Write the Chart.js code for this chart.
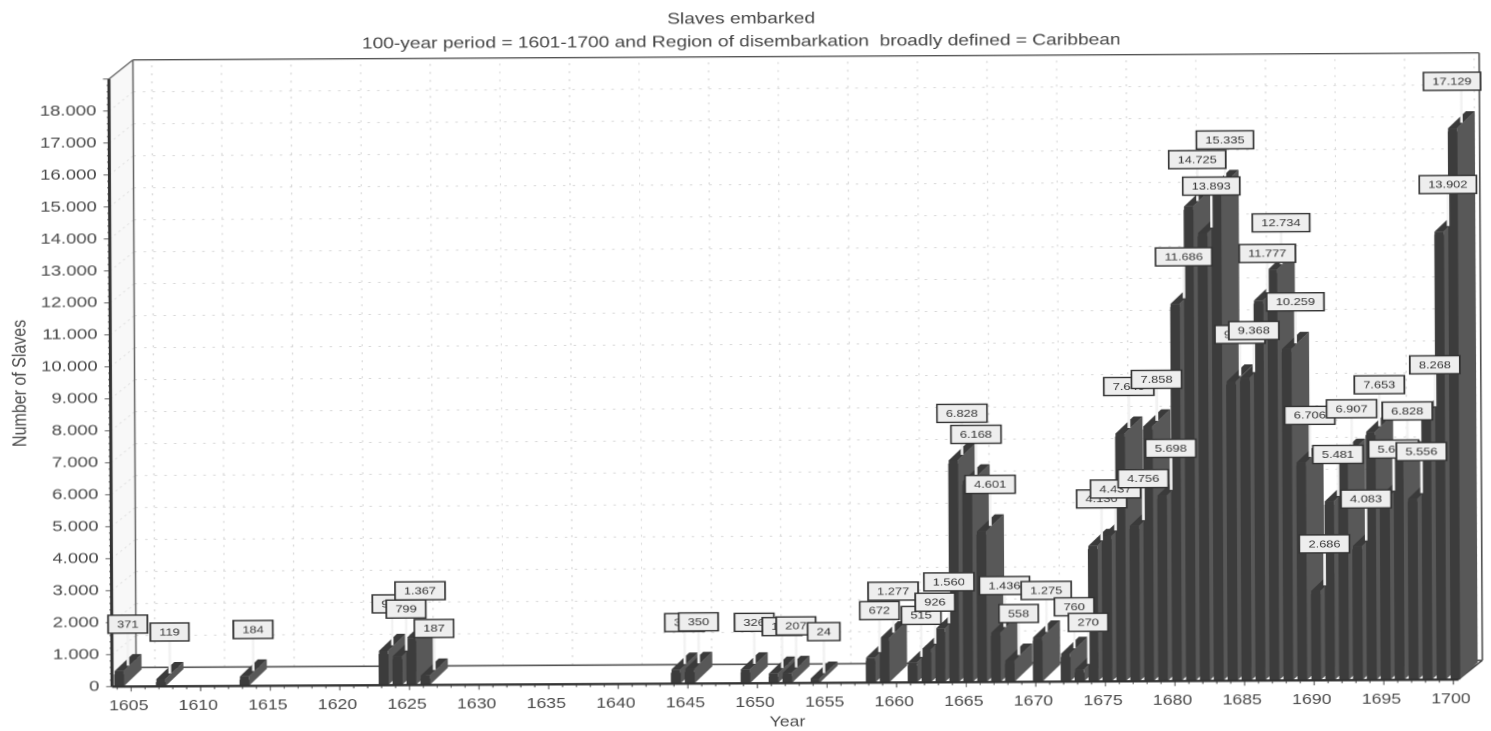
<!DOCTYPE html>
<html>
<head>
<meta charset="utf-8">
<script src="https://cdn.jsdelivr.net/npm/chart.js@4"></script>
<style>
html,body{margin:0;padding:0;background:#fff;overflow:hidden;width:1491px;height:731px}
#wrap{position:absolute;left:0;top:0;height:731px;transform-origin:0 0;filter:blur(0.45px)}
</style>
</head>
<body>
<div id="wrap"><canvas id="c"></canvas></div>
<script>
const titleLines = ['Slaves embarked', '100-year period = 1601-1700 and Region of disembarkation  broadly defined = Caribbean'];
const yAxisTitle = 'Number of Slaves';
const xAxisTitle = 'Year';
const firstYear = 1604;
const lastYear = 1700;
const yMax = 19000;
const dataYears = [1604,1607,1613,1623,1624,1625,1626,1644,1645,1649,1651,1652,1654,
  1658,1659,1661,1662,1663,1664,1665,1666,1667,1668,1670,1672,1673,1674,1675,1676,1677,1678,1679,
  1680,1681,1682,1683,1684,1685,1686,1687,1688,1689,1690,1691,1692,1693,1694,1695,1696,1697,1698,1699,1700];
const slavesEmbarked = [371,119,184,964,799,1367,187,331,350,326,190,207,24,
  672,1277,515,926,1560,6828,6168,4601,1436,558,1275,760,270,4130,4437,7640,4756,7858,5698,
  11686,14725,13893,15335,9250,9368,11777,12734,10259,6706,2686,5481,6907,4083,7653,5640,6828,5556,8268,13902,17129];

// horizontal stretch of the scanned picture
const S = 1.22;
const wrap = document.getElementById('wrap');
wrap.style.width = (1491 / S) + 'px';
wrap.style.transform = 'translate(745.5px,365.5px) rotate(-0.3deg) translate(-745.5px,-365.5px) scaleX(' + S + ')';

const categories = [];
for (let y = firstYear; y <= lastYear; y++) categories.push(String(y));
const seriesValues = categories.map(c => {
  const i = dataYears.indexOf(Number(c));
  return i < 0 ? null : slavesEmbarked[i];
});
const fmt = v => String(v).replace(/\B(?=(\d{3})+(?!\d))/g, '.');

const FRONT = '#3c3c3c', SIDE = '#585858', TOP = '#3a3a3a';
const FONT = '"Liberation Sans", Arial, sans-serif';

const poly = (ctx, pts, fill, stroke, lw) => {
  ctx.beginPath();
  pts.forEach((p, i) => i ? ctx.lineTo(p[0], p[1]) : ctx.moveTo(p[0], p[1]));
  ctx.closePath();
  if (fill) { ctx.fillStyle = fill; ctx.fill(); }
  if (stroke) { ctx.strokeStyle = stroke; ctx.lineWidth = lw || 1; ctx.stroke(); }
};
const line = (ctx, x1, y1, x2, y2, col, lw, dash) => {
  ctx.beginPath();
  ctx.setLineDash(dash || []);
  ctx.moveTo(x1, y1); ctx.lineTo(x2, y2);
  ctx.strokeStyle = col; ctx.lineWidth = lw; ctx.stroke();
  ctx.setLineDash([]);
};

const wallX = 24 / S, wallY = 19, barDX = 18 / S, barDY = 17, capLift = 3.5;

const box3d = {
  id: 'box3d',
  afterLayout(chart) {
    // the title is centred on the picture's own centre line
    if (chart.titleBlock) chart.titleBlock.right = 1486 / S;
  },
  beforeDatasetsDraw(chart) {
    const { ctx, scales: { x, y } } = chart;
    const L = x.left, R = x.right - 4 / S, B = y.getPixelForValue(0), T = y.getPixelForValue(yMax);
    ctx.save();
    // left wall
    poly(ctx, [[L, B], [L + wallX, B - wallY], [L + wallX, T - wallY], [L, T]], '#f8f8f8');
    // back-wall grid
    for (let v = 1000; v < yMax; v += 1000) {
      const py = y.getPixelForValue(v);
      line(ctx, L + wallX, py - wallY, R + wallX, py - wallY, '#d8d8d8', 1, [2, 6]);
      line(ctx, L, py, L + wallX, py - wallY, '#e4e4e4', 1, [2, 3]);
    }
    categories.forEach((c, i) => {
      if (Number(c) % 5 === 0) {
        const px = x.getPixelForValue(i) - 2 / S + wallX;
        line(ctx, px, B - wallY, px, T - wallY, '#d8d8d8', 1, [2, 6]);
      }
    });
    // frame
    line(ctx, L + wallX, B - wallY, L + wallX, T - wallY, '#666', 1.3);
    line(ctx, L, T, L + wallX, T - wallY, '#666', 1.2);
    line(ctx, L + wallX, T - wallY, R + wallX, T - wallY, '#555', 1.4);
    line(ctx, R + wallX, T - wallY, R + wallX, B - wallY, '#555', 1.4);
    // floor
    line(ctx, L + wallX, B - wallY, R + wallX, B - wallY, '#555', 1.6);
    line(ctx, R, B, R + wallX, B - wallY, '#444', 1.4);
    // bar sides and tops, left to right
    const meta = chart.getDatasetMeta(0);
    meta.data.forEach((bar, i) => {
      if (seriesValues[i] === null) return;
      const hw = bar.width / 2, xr = bar.x + hw, xl = bar.x - hw, ty = bar.y - capLift, by = bar.base;
      poly(ctx, [[xr, by], [xr + barDX, by - barDY], [xr + barDX, ty - barDY], [xr, ty]], SIDE);
      poly(ctx, [[xl, ty], [xr, ty], [xr + barDX, ty - barDY], [xl + barDX, ty - barDY]], TOP);
      poly(ctx, [[xl, ty], [xr, ty], [xr, bar.y + 1], [xl, bar.y + 1]], FRONT);
    });
    ctx.restore();
  },
  afterDatasetsDraw(chart) {
    const { ctx, scales: { x, y } } = chart;
    const L = x.left, R = x.right - 4 / S, B = y.getPixelForValue(0), T = y.getPixelForValue(yMax);
    ctx.save();
    // axes with their tick marks
    for (let v = 0; v <= yMax; v += 200) {
      const py = y.getPixelForValue(v);
      line(ctx, L - (v % 1000 === 0 ? 6 : 2.5) / S, py, L, py, '#666', 1);
    }
    categories.forEach((c, i) => {
      const px = x.getPixelForValue(i) - 2 / S;
      line(ctx, px, B, px, B + (Number(c) % 5 === 0 ? 5 : 3), '#666', 1);
    });
    line(ctx, L, B, L, T, '#333', 2.4);
    line(ctx, L, B, R, B, '#333', 2.4);
    // labels: constant offset from each bar's top, like the original renderer
    const meta = chart.getDatasetMeta(0);
    const offX = 9 / S, offY = -50.5, boxH = 18;
    ctx.font = '10.5px ' + FONT;
    meta.data.forEach((bar, i) => {
      if (seriesValues[i] === null) return;
      const lx = bar.x + offX;
      line(ctx, lx, bar.y + offY + boxH / 2, lx, bar.y - 9, '#f2f2f2', 2.6 / S);
    });
    meta.data.forEach((bar, i) => {
      const v = seriesValues[i];
      if (v === null) return;
      const txt = fmt(v);
      const w = ctx.measureText(txt).width + 18 / S;
      let lx = bar.x + offX;
      const maxRight = 1482 / S;
      if (lx + w / 2 > maxRight) lx = maxRight - w / 2;
      const ly = bar.y + offY;
      ctx.fillStyle = '#eeeeee';
      ctx.strokeStyle = '#333';
      ctx.lineWidth = 1.4;
      ctx.fillRect(lx - w / 2, ly - boxH / 2, w, boxH);
      ctx.strokeRect(lx - w / 2, ly - boxH / 2, w, boxH);
      ctx.fillStyle = '#333';
      ctx.textAlign = 'center';
      ctx.textBaseline = 'middle';
      ctx.fillText(txt, lx, ly + 0.5);
    });
    ctx.restore();
  }
};

new Chart(document.getElementById('c'), {
  type: 'bar',
  data: {
    labels: categories,
    datasets: [{ label: 'Slaves embarked', data: seriesValues, backgroundColor: FRONT, barThickness: 9 / S }]
  },
  plugins: [box3d],
  options: {
    responsive: true,
    maintainAspectRatio: false,
    animation: false,
    devicePixelRatio: 2,
    layout: { padding: { left: 0, right: (1491 - 1460.7) / S, top: 0, bottom: 0 } },
    plugins: {
      legend: { display: false },
      tooltip: { enabled: false },
      title: {
        display: true,
        text: titleLines,
        color: '#444',
        font: { family: FONT, size: 15.7, weight: 'normal', lineHeight: '23px' },
        padding: { top: 7.5, bottom: 22.2 }
      }
    },
    scales: {
      x: {
        type: 'category',
        grid: { display: false },
        border: { display: false },
        afterFit(s) { s.height = 47.7; },
        ticks: {
          autoSkip: false, maxRotation: 0, minRotation: 0,
          color: '#4a4a4a', padding: 3, labelOffset: -4.5 / S,
          font: { family: FONT, size: 14.5 },
          callback(val, i) { const t = categories[i]; return Number(t) % 5 === 0 ? t : ''; }
        },
        title: { display: true, text: xAxisTitle, color: '#4a4a4a', padding: { top: 0, bottom: 0 }, font: { family: FONT, size: 14.5 } }
      },
      y: {
        type: 'linear', min: 0, max: yMax,
        grid: { display: false },
        border: { display: false },
        afterFit(s) { s.width = 110.5 / S; },
        ticks: {
          stepSize: 1000, color: '#4a4a4a', padding: 2.5,
          font: { family: FONT, size: 15.2 },
          callback(v) { return v >= yMax ? '' : fmt(v); }
        },
        title: { display: true, text: yAxisTitle, color: '#4a4a4a', padding: { top: 7, bottom: 0 }, font: { family: FONT, size: 16 } }
      }
    }
  }
});
</script>
</body>
</html>
